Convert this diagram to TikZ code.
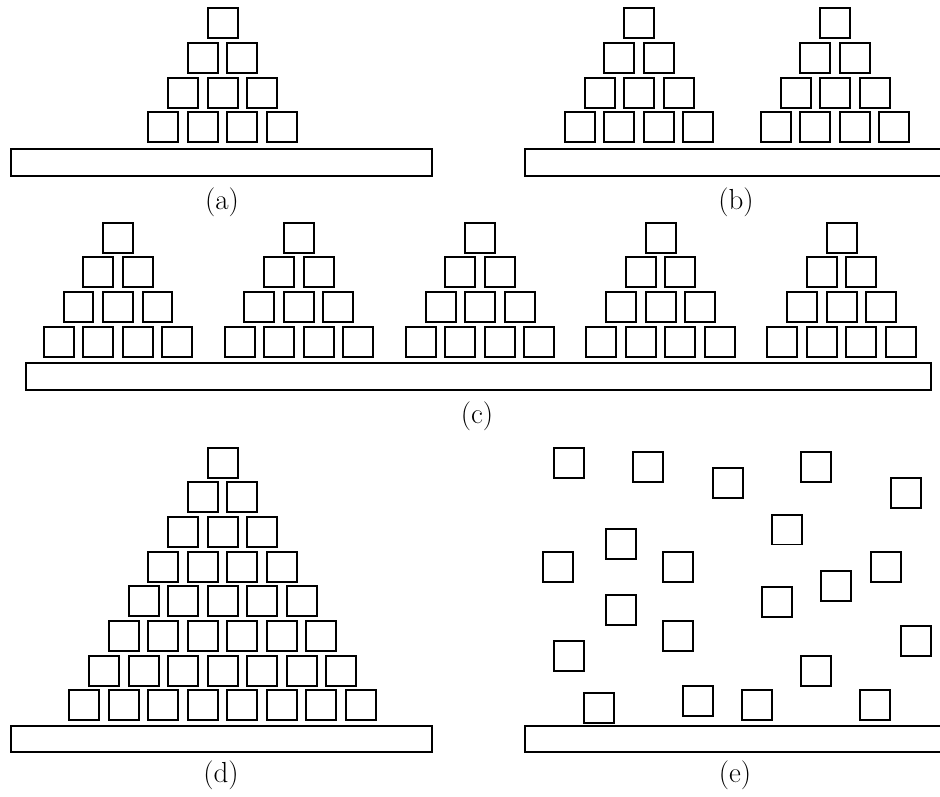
\documentclass[tikz,border=0pt]{standalone}
\usepackage{xcolor}
\usetikzlibrary{calc}

\begin{document}
\begin{tikzpicture}[x=0.02cm, y=-0.02cm, every node/.style={font=\fontsize{16.5}{19}\selectfont},
    blk/.style={draw, line width=0.04cm, minimum size=0.6cm, inner sep=0pt},
    shelf/.style={draw, line width=0.04cm}]
  \clip (0,0) rectangle (940,797);
  % stacked pyramids: apex x / apex y / rows / name
  \foreach \cx/\cy/\n/\p in {222.7/23.3/4/a, 639.2/23.3/4/b1, 835.0/23.3/4/b2,
      118.0/237.8/4/c1, 298.8/237.8/4/c2, 480.0/237.8/4/c3, 660.7/237.8/4/c4, 841.7/237.8/4/c5,
      222.7/462.7/8/d}
    \foreach \r in {1,...,\n}
      \foreach \i in {1,...,\r}
        \node[blk] (\p-\r-\i) at ({\cx+(\i-(\r+1)/2)*39.5}, {\cy+(\r-1)*34.67}) {};
  % scattered blocks
  \foreach \x/\y [count=\k] in {568.5/463.2, 647.7/467.3, 727.8/483.3, 816.2/467.3, 905.5/493.3,
      787.2/529.5, 620.5/544.0, 557.7/566.8, 677.8/566.8, 885.8/566.7, 836.0/585.5,
      776.5/601.5, 620.5/610.2, 677.8/636.2, 916.2/640.5, 568.5/656.2, 816.2/670.7,
      598.8/707.8, 697.5/700.8, 756.8/705.2, 875.2/705.2}
    \node[blk] (e\k) at (\x,\y) {};
  % shelves
  \draw[shelf] (11.3,148.7) rectangle (431.7,175.7);
  \draw[shelf] (525.3,148.7) rectangle (945.7,175.7);
  \draw[shelf] (26.3,363.3) rectangle (931.0,390.0);
  \draw[shelf] (11.3,726.3) rectangle (431.7,752.3);
  \draw[shelf] (525.3,726.3) rectangle (945.7,752.3);
  % captions
  \node (capa) at (222,202) {(a)};
  \node (capb) at (736,202) {(b)};
  \node (capc) at (477,416) {(c)};
  \node (capd) at (221,775) {(d)};
  \node (cape) at (735,775) {(e)};
\end{tikzpicture}
\end{document}
